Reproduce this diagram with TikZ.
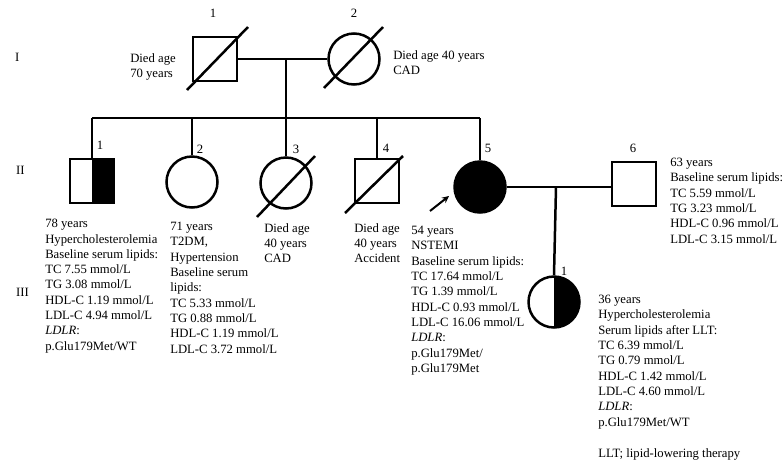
\documentclass[tikz,border=0pt]{standalone}
\usepackage{fontspec}
\setmainfont{Liberation Serif}
\usetikzlibrary{arrows.meta}

\begin{document}
\begin{tikzpicture}[x=1pt,y=-1pt,line width=2.5pt,
male/.style={draw,rectangle,minimum size=44pt,inner sep=0pt},
female/.style={draw,circle,minimum size=51pt,inner sep=0pt},
halfaff/.style={path picture={\fill (path picture bounding box.north) rectangle (path picture bounding box.south east);}},
txt/.style={inner sep=0pt,font=\fontsize{12.7}{15.3}\selectfont},
info/.style={txt,anchor=north west,align=left}]
\useasboundingbox (0,0) rectangle (784,464);

\node[txt,anchor=west](genI) at (14,57){I};
\node[txt,anchor=west](genII) at (15,170){II};
\node[txt,anchor=west](genIII) at (15,292){III};

\node[male](I1) at (215,59){};
\node[female](I2) at (354,59){};
\node[male,halfaff](II1) at (92,181){};
\node[female](II2) at (192,182){};
\node[female](II3) at (286,183){};
\node[male](II4) at (377,181){};
\node[female,fill=black](II5) at (480,187){};
\node[male](II6) at (634,184){};
\node[female,halfaff](III1) at (554,302){};

\node[txt](nI1) at (213,13){1};
\node[txt](nI2) at (354,13){2};
\node[txt](nII1) at (100,145){1};
\node[txt](nII2) at (200,149){2};
\node[txt](nII3) at (296,149){3};
\node[txt](nII4) at (386,148){4};
\node[txt](nII5) at (488,148){5};
\node[txt](nII6) at (633,148){6};
\node[txt](nIII1) at (564,271){1};

\draw(187,90)--(248,27);
\draw(324,88)--(383,27);
\draw(257,217)--(315,156);
\draw(345,213)--(403,156);

\coordinate(mateI) at (286,59);
\coordinate(sib) at (286,118);
\coordinate(mateII) at (556,187);
\draw(I1.east)--(I2.west);
\draw(mateI)--(sib);
\draw(II1.north|-sib)--(II5.north|-sib);
\foreach \p in {II1,II2,II3,II4,II5}
  \draw(\p.north)--(\p.north|-sib);
\draw(II5.east)--(II5.east-|II6.west);
\draw(mateII)--(III1.north);

\coordinate(prob) at (430,211);
\coordinate(probtip) at (449,196);
\draw[line width=2pt,-{Stealth[length=7pt,width=6.5pt]}](prob)--(probtip);

\node[info](tI1) at (129,52){Died age\\70 years};
\node[info](tI2) at (392,49){Died age 40 years\\CAD};
\node[info](tII1) at (44,218){78 years\\Hypercholesterolemia\\Baseline serum lipids:\\TC 7.55 mmol/L\\TG 3.08 mmol/L\\HDL-C 1.19 mmol/L\\LDL-C 4.94 mmol/L\\\textit{LDLR}:\\p.Glu179Met/WT};
\node[info](tII2) at (169,221){71 years\\T2DM,\\Hypertension\\Baseline serum\\lipids:\\TC 5.33 mmol/L\\TG 0.88 mmol/L\\HDL-C 1.19 mmol/L\\LDL-C 3.72 mmol/L};
\node[info](tII3) at (263,222){Died age\\40 years\\CAD};
\node[info](tII4) at (353,222){Died age\\40 years\\Accident};
\node[info](tII5) at (410,225){54 years\\NSTEMI\\Baseline serum lipids:\\TC 17.64 mmol/L\\TG 1.39 mmol/L\\HDL-C 0.93 mmol/L\\LDL-C 16.06 mmol/L\\\textit{LDLR}:\\p.Glu179Met/\\p.Glu179Met};
\node[info](tII6) at (669,157){63 years\\Baseline serum lipids:\\TC 5.59 mmol/L\\TG 3.23 mmol/L\\HDL-C 0.96 mmol/L\\LDL-C 3.15 mmol/L};
\node[info](tIII1) at (597,294){36 years\\Hypercholesterolemia\\Serum lipids after LLT:\\TC 6.39 mmol/L\\TG 0.79 mmol/L\\HDL-C 1.42 mmol/L\\LDL-C 4.60 mmol/L\\\textit{LDLR}:\\p.Glu179Met/WT};
\node[info](note) at (597,447){LLT; lipid-lowering therapy};
\end{tikzpicture}
\end{document}
